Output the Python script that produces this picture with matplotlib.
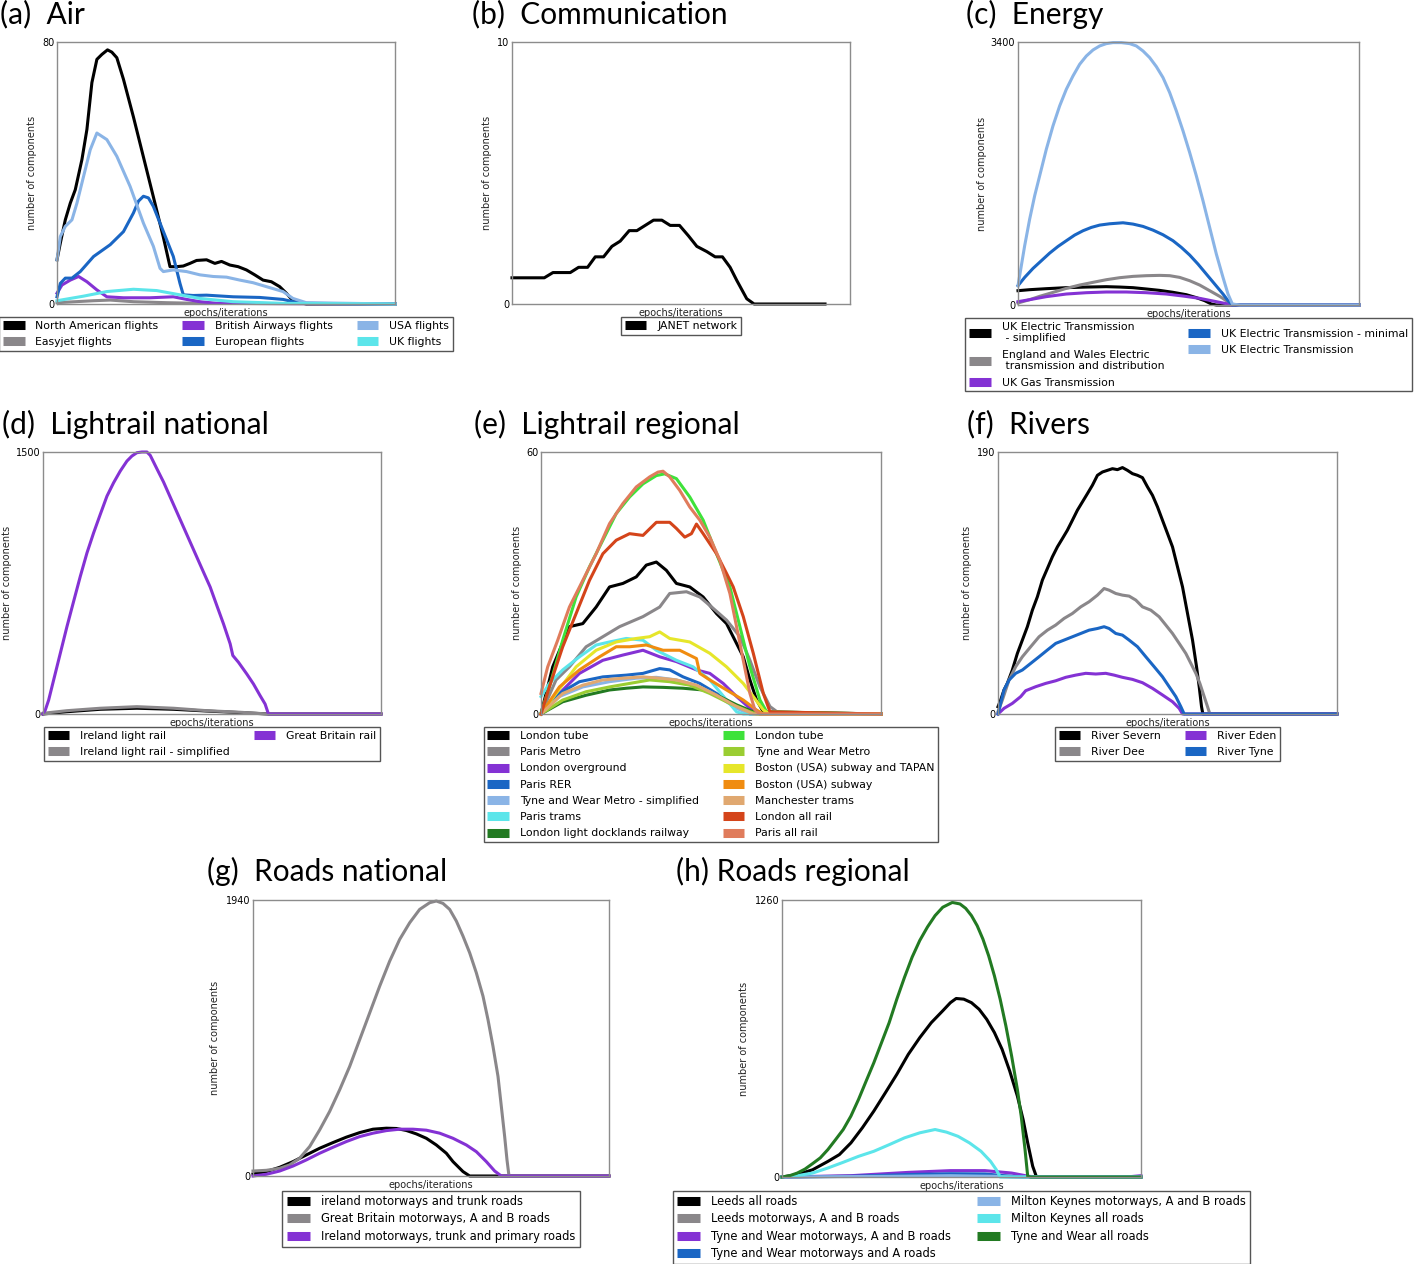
import matplotlib
matplotlib.use("Agg")
import matplotlib.pyplot as plt
from matplotlib.lines import Line2D

# ---------------- colours ----------------
BLACK = '#000000'; GRAY = '#8a878a'; PURPLE = '#8432d4'; BLUE = '#1a66c4'
LBLUE = '#8ab4e6'; CYAN = '#5ce5ea'; GREEN = '#3ee23a'; YGREEN = '#9acd32'
YELLOW = '#e6e62a'; ORANGE = '#f08c10'; TAN = '#e0a870'; REDOR = '#d4441a'
SALMON = '#e07c5c'; DGREEN = '#227a22'

# ---------------- (a) Air ----------------
A_YMAX = 80; A_XMAX = 1017
a_na_x = [0,10,25,40,55,75,90,105,120,135,152,165,180,200,230,260,290,320,340,360,380,400,420,450,475,495,520,545,570,595,620,645,670,690,710,750,1017]
a_na_y = [13.5,18.6,25.7,30.8,34.9,44.1,53.3,67.6,74.7,76.2,77.6,76.9,75.2,68.6,57.1,44.9,32.7,20.4,11.4,11.4,11.6,12.4,13.3,13.5,12.4,13.0,11.9,11.4,10.4,8.9,7.3,6.8,5.3,3.3,1.0,0,0]
a_ej_x = [0,110,160,230,330,430,1017]
a_ej_y = [0.4,1.0,1.2,0.7,0.4,0.2,0]
a_ba_x = [0,15,40,65,90,120,150,200,280,350,390,430,480,1017]
a_ba_y = [3.3,5.8,7.3,8.4,6.8,4.3,2.2,1.9,1.9,2.2,1.4,0.7,0.2,0]
a_eu_x = [0,10,25,45,70,110,160,200,230,245,260,275,290,310,330,350,370,380,410,450,530,610,680,710,750,1017]
a_eu_y = [2.2,6.3,7.9,7.9,9.9,14.5,18.1,22.1,27.8,31.4,32.9,32.4,29.8,24.7,19.6,14.5,6.3,2.8,2.6,2.7,2.2,2.0,1.4,0.7,0.2,0]
a_us_x = [0,10,25,45,60,80,100,120,135,150,180,220,260,290,310,320,350,390,430,470,510,550,590,630,680,710,750,1017]
a_us_y = [13.5,20.6,23.7,25.7,30.8,39.0,47.1,52.2,51.2,50.2,45.1,35.9,24.7,17.6,10.9,9.9,10.4,9.9,8.9,8.4,8.2,7.3,6.5,5.3,3.8,1.7,0.4,0]
a_uk_x = [0,80,150,230,300,370,430,530,680,1017]
a_uk_y = [1.0,2.4,3.8,4.5,4.1,2.8,1.7,0.7,0.2,0]

# ---------------- (b) Communication ----------------
B_YMAX = 10; B_XMAX = 1015
b_janet_x = [0,97,123,175,200,227,250,275,300,325,352,375,400,425,450,475,503,530,555,585,610,632,655,675,705,727,940]
b_janet_y = [1.0,1.0,1.2,1.2,1.4,1.4,1.8,1.8,2.2,2.4,2.8,2.8,3.0,3.2,3.2,3.0,3.0,2.6,2.2,2.0,1.8,1.8,1.4,0.9,0.2,0.0,0.0]

# ---------------- (c) Energy ----------------
C_YMAX = 3400; C_XMAX = 1023
c_simp_x = [0,35,85,145,205,265,305,345,385,425,465,505,535,560,580,595,1023]
c_simp_y = [185,198,211,224,232,237,232,224,207,189,164,133,95,56,13,0,0]
c_ew_x = [0,35,65,105,145,185,225,265,305,345,385,425,455,485,515,545,575,605,625,640,665,1023]
c_ew_y = [26,69,112,163,215,258,293,327,353,370,379,383,379,357,314,258,185,112,56,9,0,0]
c_gas_x = [0,35,85,145,205,265,325,385,445,495,545,595,625,640,1023]
c_gas_y = [43,69,108,142,159,168,168,159,142,116,86,43,17,0,0]
c_min_x = [0,20,45,70,95,120,145,170,195,220,245,275,315,345,375,405,435,465,490,515,540,565,590,615,630,643,665,1023]
c_min_y = [250,357,473,572,671,757,831,904,960,1003,1033,1050,1063,1046,1016,968,908,831,745,646,529,400,271,142,56,0,0,0]
c_full_x = [0,10,20,35,50,65,85,105,125,145,165,185,205,225,245,265,285,310,335,355,375,395,415,435,455,475,495,515,535,555,575,595,615,630,643,665,1023]
c_full_y = [250,508,766,1110,1412,1670,2014,2316,2574,2789,2961,3112,3219,3297,3349,3379,3392,3392,3379,3349,3284,3198,3082,2940,2746,2509,2251,1971,1670,1347,1003,659,357,142,13,0,0]

# ---------------- (d) Lightrail national ----------------
D_YMAX = 1500; D_XMAX = 1015
d_irl_x = [0,72,172,282,392,492,592,677,1015]
d_irl_y = [0,13,27,33,27,17,8,0,0]
d_irls_y = [4,19,33,42,33,19,10,0,0]
d_gb_x = [0,7,17,32,52,72,92,112,132,152,172,192,212,232,252,267,282,297,312,322,342,362,382,402,422,442,462,482,502,522,542,562,570,587,612,632,652,667,677,1015]
d_gb_y = [0,23,80,195,348,501,645,788,922,1037,1143,1247,1324,1391,1448,1477,1496,1500,1500,1481,1404,1328,1242,1156,1070,984,898,812,727,621,516,402,335,296,229,172,105,57,0,0]

# ---------------- (e) Lightrail regional ----------------
E_YMAX = 60; E_XMAX = 1017
e_tube_x = [0,35,85,125,165,205,245,285,315,345,375,405,445,485,525,555,580,605,625,645,665,1017]
e_tube_y = [0,10.8,20.0,20.7,24.5,29.1,29.9,31.4,34.1,34.8,32.9,29.9,29.1,26.8,23.0,20.7,16.9,13.1,7.8,3.2,0.5,0]
e_pmetro_x = [0,45,85,135,185,235,305,355,385,435,475,515,555,595,625,655,685,715,1017]
e_pmetro_y = [0,7.8,10.8,15.4,17.7,20.0,22.3,24.5,27.6,28.0,26.8,24.2,21.5,17.7,12.3,6.2,1.7,0,0]
e_over_x = [0,55,115,185,245,305,355,405,465,505,545,585,625,645,1017]
e_over_y = [0,4.7,9.3,12.3,13.5,14.6,13.1,12.0,10.1,9.3,7.0,4.0,1.3,0,0]
e_rer_x = [0,55,115,185,255,305,355,385,425,475,525,585,625,1017]
e_rer_y = [0,4.7,7.4,8.5,8.9,9.3,10.4,10.1,8.5,7.0,4.7,1.7,0,0]
e_twsimp_x = [0,55,125,205,285,345,405,465,525,585,625,1017]
e_twsimp_y = [0,4.0,6.2,7.4,8.2,8.4,7.8,6.6,4.3,1.3,0,0]
e_ptram_x = [0,25,65,115,165,205,255,305,345,405,455,505,555,585,605,1017]
e_ptram_y = [4.0,7.0,10.1,13.1,15.8,16.5,17.3,16.9,14.6,12.3,10.8,7.8,3.2,0.5,0,0]
e_dlr_x = [0,65,135,205,255,305,365,425,485,535,585,635,655,1017]
e_dlr_y = [0,2.8,4.3,5.5,5.9,6.2,6.1,5.9,5.5,4.0,2.1,0.5,0,0]
e_tube2_x = [0,25,65,105,145,185,225,265,305,345,370,405,445,485,525,565,595,625,655,675,1017]
e_tube2_y = [0.2,6.2,16.9,26.8,33.7,39.8,45.9,49.7,52.7,54.6,55.0,53.9,49.7,44.4,36.7,29.1,20.0,10.8,3.2,0.5,0]
e_twm_x = [0,65,135,205,265,325,385,445,505,565,625,645,1017]
e_twm_y = [0,3.2,5.1,6.2,7.0,7.8,7.4,6.6,4.7,2.4,0.5,0,0]
e_btap_x = [0,45,105,165,225,285,325,355,385,445,505,555,605,635,665,685,1017]
e_btap_y = [0,4.7,10.8,14.6,16.5,17.3,17.7,18.8,17.3,16.5,13.9,10.8,7.0,4.0,0.9,0,0]
e_bsub_x = [0,55,115,175,225,265,315,365,415,465,475,505,555,605,645,665,1017]
e_bsub_y = [0,6.2,10.1,13.1,15.4,15.4,15.8,14.6,14.6,12.7,9.3,7.8,5.5,3.2,0.9,0,0]
e_man_x = [0,65,125,185,245,305,355,405,465,525,585,635,1017]
e_man_y = [0,4.7,6.6,7.8,8.2,8.5,8.2,7.8,6.6,4.3,1.7,0,0]
e_lrail_x = [0,25,65,105,145,185,225,265,305,345,385,405,430,450,465,485,525,555,575,605,635,665,685,1017]
e_lrail_y = [0,6.2,15.4,23.0,30.6,36.7,39.8,41.3,40.9,43.9,43.9,42.5,40.5,41.3,43.5,41.3,36.7,32.2,29.1,22.3,13.9,4.7,0.5,0]
e_prail_x = [0,20,50,85,125,165,205,245,285,325,350,365,385,415,445,475,505,535,565,585,605,625,640,655,1017]
e_prail_y = [4.7,10.8,16.9,24.5,30.6,36.7,43.6,48.2,52.0,54.3,55.4,55.6,54.3,51.2,47.4,44.4,40.5,35.2,27.6,20.0,12.3,4.7,0.9,0,0]

# ---------------- (f) Rivers ----------------
F_YMAX = 190; F_XMAX = 1016
f_sev_x = [0,8,18,28,43,58,73,88,103,118,133,148,163,178,193,208,223,238,253,268,283,298,313,328,343,358,373,388,403,418,433,448,463,478,493,508,523,538,553,568,583,595,603,610,614,1016]
f_sev_y = [5.3,10.1,17.4,22.2,31.9,43.9,53.6,63.3,75.3,85.0,97.1,105.5,114.0,121.2,127.2,133.3,140.5,147.8,153.8,159.8,165.9,173.1,175.5,176.7,177.9,177.2,178.7,176.7,174.3,173.1,171.4,164.7,158.6,150.2,140.5,130.9,121.2,106.7,92.2,72.9,53.6,34.3,19.8,5.3,0,0]
f_dee_x = [0,13,33,53,73,98,123,148,173,198,223,248,273,298,318,333,353,373,393,413,433,458,483,503,523,543,563,578,593,605,618,628,635,1016]
f_dee_y = [1.7,10.1,24.6,34.3,41.5,48.8,56.0,60.8,64.5,69.3,72.9,77.7,81.4,86.2,91.0,89.8,87.4,86.2,85.5,82.6,77.7,75.3,70.5,64.5,58.4,51.2,43.9,36.7,29.5,22.2,12.6,5.3,0,0]
f_eden_x = [0,18,43,68,83,113,143,173,203,233,263,293,323,348,373,403,433,463,493,523,543,553,1016]
f_eden_y = [0,4.1,7.7,12.6,16.9,19.8,22.2,24.1,26.6,28.2,29.5,29.0,29.5,28.2,26.6,25.1,22.7,18.6,13.8,8.9,4.1,0,0]
f_tyne_x = [0,8,18,33,53,73,98,123,148,173,198,223,248,273,298,318,333,353,373,393,418,443,468,493,513,533,548,558,1016]
f_tyne_y = [0,7.7,17.4,24.6,29.5,31.9,36.7,41.5,46.4,51.2,53.6,56.0,58.4,60.8,62.0,63.3,62.0,58.4,57.2,53.6,48.8,41.5,34.3,27.0,19.8,12.6,5.3,0,0]

# ---------------- (g) Roads national ----------------
G_YMAX = 1940; G_XMAX = 1068
g_irl_x = [0,40,80,120,160,200,240,280,320,360,400,430,460,490,520,550,580,600,630,650,1068]
g_irl_y = [14,31,61,101,148,195,235,273,305,329,336,334,320,296,265,218,160,101,31,0,0]
g_gb_x = [0,40,80,110,140,170,200,230,260,290,320,350,380,410,440,470,500,530,550,570,590,610,630,650,670,690,705,720,735,745,755,762,768,1068]
g_gb_y = [35,40,54,78,125,207,324,454,606,770,958,1146,1334,1510,1663,1780,1874,1921,1933,1916,1874,1792,1686,1569,1428,1264,1099,911,700,489,277,113,0,0]
g_irlp_x = [0,40,80,120,160,200,240,280,320,360,400,440,480,520,560,600,640,670,700,725,745,1068]
g_irlp_y = [0,12,35,70,113,160,202,242,277,301,319,329,329,322,301,265,218,171,101,35,0,0]

# ---------------- (h) Roads regional ----------------
H_YMAX = 1260; H_XMAX = 938
h_leeds_x = [0,40,80,120,150,180,210,240,270,300,330,360,390,420,440,455,475,495,515,535,555,575,595,615,630,642,655,665,938]
h_leeds_y = [0,11,33,71,102,155,224,300,383,467,558,634,702,756,793,812,809,793,763,717,657,581,482,368,261,155,49,0,0]
h_leedsab_x = [0,280,440,560,610,938]
h_leedsab_y = [0,6,9,6,0,0]
h_twab_x = [0,180,330,440,530,600,645,680,900,938]
h_twab_y = [0,6,21,29,29,18,3,0,0,6]
h_twa_x = [0,180,330,440,530,580,630,938]
h_twa_y = [0,3,11,15,14,6,0,0]
h_mkab_x = [0,280,440,560,600,938]
h_mkab_y = [0,3,6,3,0,0]
h_mk_x = [0,40,80,120,160,200,240,280,320,360,400,430,460,490,520,545,560,570,938]
h_mk_y = [0,6,18,41,67,94,117,147,178,201,216,204,185,155,117,71,33,0,0]
h_tw_x = [0,20,40,60,80,100,120,140,160,180,200,220,240,260,280,300,320,340,360,380,400,420,445,465,480,495,510,525,540,555,570,585,600,615,625,635,642,650,938]
h_tw_y = [0,6,18,36,61,87,125,170,216,277,353,437,520,611,702,809,908,1000,1076,1137,1189,1227,1249,1242,1222,1189,1143,1082,1006,915,809,687,550,398,277,125,3,0,0]

# ---------------- figure ----------------
W, H = 1414, 1264
fig = plt.figure(figsize=(W / 100, H / 100), dpi=100)
TITLE_FONT = ['Lato', 'DejaVu Sans']


def panel(box, ymax, xmax, series, ncol, ylab_dx, leg_gap=13, leg_fs=7.8, leg_ls=0.58):
    l, t, r, b = box
    wpx, hpx = r - l, b - t
    ax = fig.add_axes([l / W, 1 - b / H, wpx / W, hpx / H])
    handles = []
    for xs, ys, col, lab in series:
        ax.plot(xs, ys, color=col, lw=2.2, clip_on=False, solid_joinstyle='round')
        handles.append(Line2D([], [], color=col, lw=6.5, solid_capstyle='butt'))
    ax.set_xlim(0, xmax)
    ax.set_ylim(0, ymax)
    ax.set_xticks([])
    ax.set_yticks([0, ymax])
    ax.set_yticklabels(['0', str(ymax)])
    ax.tick_params(axis='y', length=0, labelsize=7, pad=2)
    for s in ax.spines.values():
        s.set_color('#8c8c8c')
        s.set_linewidth(1.0)
    ax.set_ylabel('number of components', fontsize=7, color='#222222')
    ax.yaxis.set_label_coords(ylab_dx / wpx, 0.5)
    ax.set_xlabel('epochs/iterations', fontsize=7, color='#222222')
    ax.xaxis.set_label_coords(0.5, -4 / hpx)
    leg = ax.legend(handles, [s[3] for s in series], loc='upper center',
                    bbox_to_anchor=(0.5, -leg_gap / hpx), ncol=ncol, fontsize=leg_fs,
                    handlelength=2.0, handletextpad=1.0, columnspacing=2.2,
                    borderpad=0.35, labelspacing=leg_ls, fancybox=False,
                    borderaxespad=0, edgecolor='#555555', framealpha=1)
    leg.get_frame().set_linewidth(1.0)
    return ax


def title(x, y, s):
    fig.text(x / W, 1 - y / H, s, fontsize=21.5, family=TITLE_FONT, ha='left', va='center')


panel((57, 42, 395, 304), A_YMAX, A_XMAX, [
    (a_na_x, a_na_y, BLACK, 'North American flights'),
    (a_ej_x, a_ej_y, GRAY, 'Easyjet flights'),
    (a_ba_x, a_ba_y, PURPLE, 'British Airways flights'),
    (a_eu_x, a_eu_y, BLUE, 'European flights'),
    (a_us_x, a_us_y, LBLUE, 'USA flights'),
    (a_uk_x, a_uk_y, CYAN, 'UK flights')], 3, -20)
title(0, 14, '(a)  Air')

panel((512, 42, 850, 304), B_YMAX, B_XMAX, [
    (b_janet_x, b_janet_y, BLACK, 'JANET network')], 1, -20)
title(472, 14, '(b)  Communication')

panel((1018, 42, 1359, 305), C_YMAX, C_XMAX, [
    (c_simp_x, c_simp_y, BLACK, 'UK Electric Transmission\n - simplified'),
    (c_ew_x, c_ew_y, GRAY, 'England and Wales Electric\n transmission and distribution'),
    (c_gas_x, c_gas_y, PURPLE, 'UK Gas Transmission'),
    (c_min_x, c_min_y, BLUE, 'UK Electric Transmission - minimal'),
    (c_full_x, c_full_y, LBLUE, 'UK Electric Transmission')], 2, -31)
title(966, 14, '(c)  Energy')

panel((43, 452, 381, 714), D_YMAX, D_XMAX, [
    (d_irl_x, d_irl_y, BLACK, 'Ireland light rail'),
    (d_irl_x, d_irls_y, GRAY, 'Ireland light rail - simplified'),
    (d_gb_x, d_gb_y, PURPLE, 'Great Britain rail')], 2, -31)
title(2, 424, '(d)  Lightrail national')

panel((541, 452, 881, 714), E_YMAX, E_XMAX, [
    (e_tube_x, e_tube_y, BLACK, 'London tube'),
    (e_pmetro_x, e_pmetro_y, GRAY, 'Paris Metro'),
    (e_over_x, e_over_y, PURPLE, 'London overground'),
    (e_rer_x, e_rer_y, BLUE, 'Paris RER'),
    (e_twsimp_x, e_twsimp_y, LBLUE, 'Tyne and Wear Metro - simplified'),
    (e_ptram_x, e_ptram_y, CYAN, 'Paris trams'),
    (e_dlr_x, e_dlr_y, DGREEN, 'London light docklands railway'),
    (e_tube2_x, e_tube2_y, GREEN, 'London tube'),
    (e_twm_x, e_twm_y, YGREEN, 'Tyne and Wear Metro'),
    (e_btap_x, e_btap_y, YELLOW, 'Boston (USA) subway and TAPAN'),
    (e_bsub_x, e_bsub_y, ORANGE, 'Boston (USA) subway'),
    (e_man_x, e_man_y, TAN, 'Manchester trams'),
    (e_lrail_x, e_lrail_y, REDOR, 'London all rail'),
    (e_prail_x, e_prail_y, SALMON, 'Paris all rail')], 2, -19)
title(474, 424, '(e)  Lightrail regional')

panel((998, 452, 1337, 714), F_YMAX, F_XMAX, [
    (f_sev_x, f_sev_y, BLACK, 'River Severn'),
    (f_dee_x, f_dee_y, GRAY, 'River Dee'),
    (f_eden_x, f_eden_y, PURPLE, 'River Eden'),
    (f_tyne_x, f_tyne_y, BLUE, 'River Tyne')], 2, -26)
title(967, 424, '(f)  Rivers')

panel((253, 900, 609, 1176), G_YMAX, G_XMAX, [
    (g_irl_x, g_irl_y, BLACK, 'ireland motorways and trunk roads'),
    (g_gb_x, g_gb_y, GRAY, 'Great Britain motorways, A and B roads'),
    (g_irlp_x, g_irlp_y, PURPLE, 'Ireland motorways, trunk and primary roads')], 1, -33,
    leg_gap=15, leg_fs=8.3, leg_ls=0.37)
title(207, 871, '(g)  Roads national')

panel((782, 900, 1141, 1177), H_YMAX, H_XMAX, [
    (h_leeds_x, h_leeds_y, BLACK, 'Leeds all roads'),
    (h_leedsab_x, h_leedsab_y, GRAY, 'Leeds motorways, A and B roads'),
    (h_twab_x, h_twab_y, PURPLE, 'Tyne and Wear motorways, A and B roads'),
    (h_twa_x, h_twa_y, BLUE, 'Tyne and Wear motorways and A roads'),
    (h_mkab_x, h_mkab_y, LBLUE, 'Milton Keynes motorways, A and B roads'),
    (h_mk_x, h_mk_y, CYAN, 'Milton Keynes all roads'),
    (h_tw_x, h_tw_y, DGREEN, 'Tyne and Wear all roads')], 2, -33,
    leg_gap=14, leg_fs=8.3, leg_ls=0.37)
title(676, 871, '(h) Roads regional')

fig.savefig('out.png', dpi=100, facecolor='white')
